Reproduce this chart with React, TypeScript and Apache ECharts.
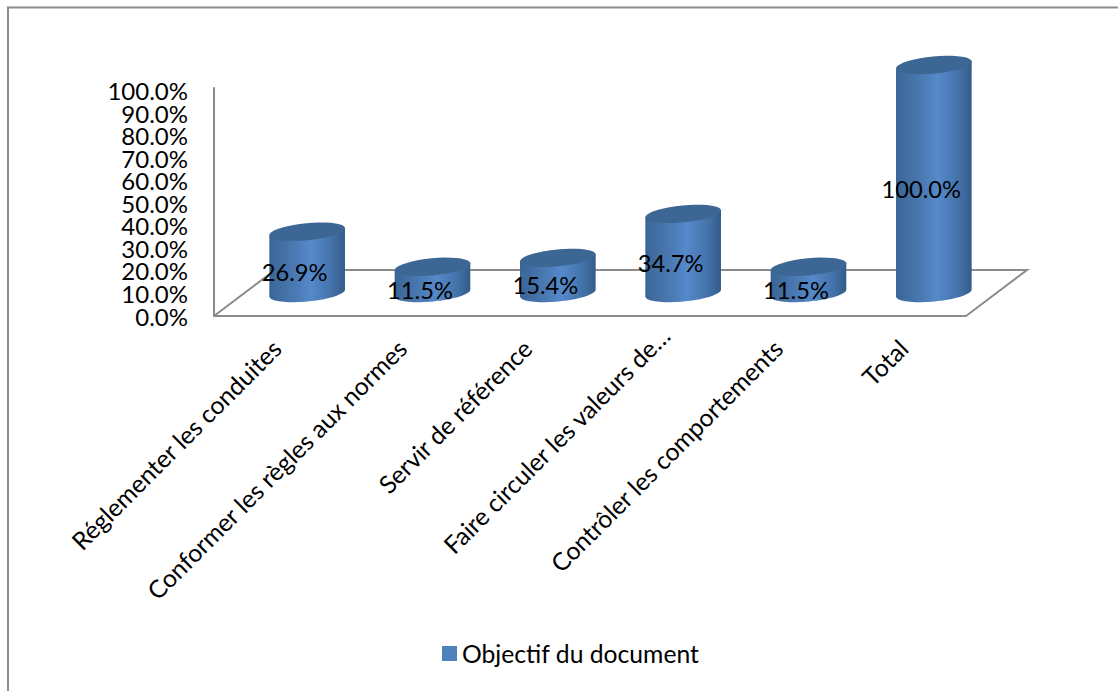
import React, { useEffect, useRef } from "react";
import * as echarts from "echarts";

const categories = [
  "Réglementer les conduites",
  "Conformer les règles aux normes",
  "Servir de référence",
  "Faire circuler les valeurs de…",
  "Contrôler les comportements",
  "Total",
];
const seriesName = "Objectif du document";
const values = [26.9, 11.5, 15.4, 34.7, 11.5, 100];
const yTicks = [0, 10, 20, 30, 40, 50, 60, 70, 80, 90, 100];

const FONT = "Lato, 'Open Sans', sans-serif";
const AXIS_GREY = "#8c8c8c";

// Depth of the floor parallelogram, in pixels; columns stand half-way back.
const DEPTH_X = 61;
const DEPTH_Y = -46;
const RX = 38;
const RY = 8.5;
const TILT = (-5.5 * Math.PI) / 180;
const Y_LABEL_GAP = 26;
// The tick texts are packed slightly tighter than the axis they annotate.
const Y_LABEL_SQUEEZE = 0.027;

// Outline of the tilted ellipse between two parametric angles.
function ellipseArc(cx: number, cy: number, from: number, to: number) {
  const steps = 36;
  const pts: number[][] = [];
  for (let i = 0; i <= steps; i++) {
    const t = from + ((to - from) * i) / steps;
    const ex = RX * Math.cos(t);
    const ey = RY * Math.sin(t);
    pts.push([
      cx + ex * Math.cos(TILT) - ey * Math.sin(TILT),
      cy + ex * Math.sin(TILT) + ey * Math.cos(TILT),
    ]);
  }
  return pts;
}

function renderCylinder(params: any, api: any) {
  const idx = api.value(0);
  const val = api.value(1);
  const base = api.coord([idx, 0]);
  const top = api.coord([idx, val]);
  const mid = api.coord([idx, val / 2]);
  const cx = base[0] + DEPTH_X / 2;
  const cyBase = base[1] + DEPTH_Y / 2;
  const cyTop = top[1] + DEPTH_Y / 2;
  // Lower half of the base ellipse (right to left), then straight up to the cap.
  const lower = ellipseArc(cx, cyBase, 0, Math.PI);
  const upper = [ellipseArc(cx, cyTop, Math.PI, Math.PI)[0], ellipseArc(cx, cyTop, 0, 0)[0]];
  return {
    type: "group",
    children: [
      {
        type: "polygon",
        shape: { points: [...lower, ...upper] },
        style: {
          fill: new echarts.graphic.LinearGradient(0, 0, 1, 0, [
            { offset: 0, color: "#3a6597" },
            { offset: 0.22, color: "#4572a8" },
            { offset: 0.55, color: "#5589ca" },
            { offset: 0.8, color: "#4675ad" },
            { offset: 1, color: "#345c8b" },
          ]),
        },
      },
      {
        type: "polygon",
        shape: { points: ellipseArc(cx, cyTop, 0, Math.PI * 2) },
        style: { fill: "#3c6694" },
      },
      {
        type: "text",
        x: base[0] + 18,
        y: mid[1] + DEPTH_Y / 2 + 10,
        style: {
          text: `${val.toFixed(1)}%`,
          fill: "#000",
          font: `23.7px ${FONT}`,
          align: "center",
          verticalAlign: "middle",
        },
      },
    ],
  };
}

function renderFloor(params: any, api: any) {
  const { x, y, width, height } = params.coordSys;
  const bottom = y + height;
  return {
    type: "polyline",
    shape: {
      points: [
        [x, bottom],
        [x + DEPTH_X, bottom + DEPTH_Y],
        [x + width + DEPTH_X, bottom + DEPTH_Y],
        [x + width, bottom],
      ],
    },
    style: { stroke: AXIS_GREY, lineWidth: 2, fill: "none" },
  };
}

// Axis texts are set here because the axis itself drops labels packed this tightly.
function renderYLabel(params: any, api: any) {
  const v = api.value(1);
  const p = api.coord([0, v]);
  return {
    type: "text",
    x: params.coordSys.x - Y_LABEL_GAP,
    y: p[1] + v * Y_LABEL_SQUEEZE,
    style: {
      text: `${v.toFixed(1)}%`,
      fill: "#000",
      font: `24px ${FONT}`,
      align: "right",
      verticalAlign: "middle",
    },
  };
}

export default function App() {
  const ref = useRef<HTMLDivElement>(null);
  useEffect(() => {
    document.body.style.margin = "0";
    const chart = echarts.init(ref.current!, undefined, { renderer: "svg" });
    chart.setOption({
      animation: false,
      backgroundColor: "#fff",
      grid: { left: 214, top: 88, width: 752, height: 228 },
      legend: {
        data: [seriesName],
        left: 442,
        top: 641,
        padding: 0,
        icon: "rect",
        itemWidth: 15,
        itemHeight: 15,
        itemGap: 6,
        textStyle: { fontFamily: FONT, fontSize: 24.7, color: "#000" },
      },
      xAxis: {
        type: "category",
        data: categories.map((name) =>
          // The truncated label sits further along its slope than the others.
          name.endsWith("…") ? { value: name, textStyle: { padding: [0, -18, 0, 0] } } : name
        ),
        axisTick: { show: false },
        axisLine: { lineStyle: { color: AXIS_GREY, width: 2 } },
        axisLabel: {
          interval: 0,
          rotate: 45,
          margin: 28,
          fontFamily: FONT,
          fontSize: 24.7,
          color: "#000",
        },
      },
      yAxis: {
        type: "value",
        min: 0,
        max: 100,
        interval: 10,
        splitLine: { show: false },
        axisTick: { show: false },
        axisLine: { show: true, lineStyle: { color: AXIS_GREY, width: 2 } },
        axisLabel: { show: false },
      },
      graphic: [
        {
          type: "polyline",
          shape: { points: [[8, 691], [8, 7.5], [1118, 7.5]] },
          style: { stroke: AXIS_GREY, lineWidth: 2, fill: "none" },
          silent: true,
        },
      ],
      series: [
        {
          type: "custom",
          name: "floor",
          silent: true,
          z: 1,
          coordinateSystem: "cartesian2d",
          renderItem: renderFloor,
          data: [[0, 0]],
        },
        {
          type: "custom",
          name: "yLabels",
          silent: true,
          z: 2,
          coordinateSystem: "cartesian2d",
          clip: false,
          renderItem: renderYLabel,
          encode: { x: 0, y: 1 },
          data: yTicks.map((t) => [0, t]),
        },
        {
          type: "custom",
          name: seriesName,
          z: 3,
          coordinateSystem: "cartesian2d",
          itemStyle: { color: "#4f81bd" },
          renderItem: renderCylinder,
          encode: { x: 0, y: 1 },
          data: values.map((v, i) => [i, v]),
        },
      ],
    });
    return () => chart.dispose();
  }, []);
  return <div ref={ref} style={{ width: 1118, height: 691 }} />;
}
